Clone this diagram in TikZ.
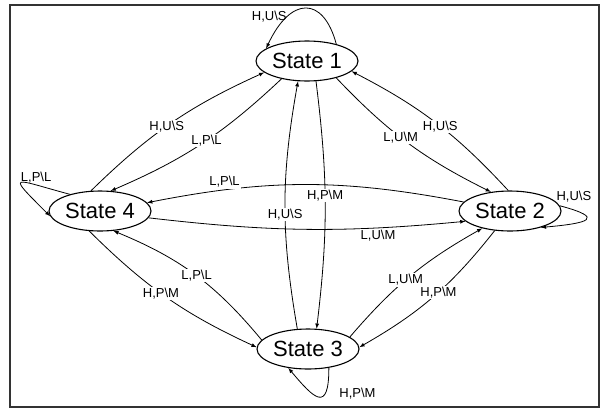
\documentclass[tikz,border=0pt]{standalone}
\usepackage{fontspec}
\setmainfont{Liberation Sans}
\usetikzlibrary{shapes,arrows,positioning}

\newcommand{\bs}{\textbackslash}

\begin{document}
\begin{tikzpicture}[
    x=1pt, y=1pt,
    state/.style={ellipse, draw, line width=1.1pt, minimum width=102pt, minimum height=40pt, inner sep=0pt, font=\fontsize{22}{24}\selectfont},
    trans/.style={draw, line width=0.8pt, -latex},
    lbl/.style={fill=white, inner sep=1pt, font=\fontsize{13}{15}\selectfont},
    loopl/.style={inner sep=1pt, font=\fontsize{13}{15}\selectfont}
]
    \useasboundingbox (0,0) rectangle (601,-410);
    \draw[line width=1.2pt, black!80] (10,-5) rectangle (599,-407);

    % States
    \node[state] (s1) at (307,-61) {State 1};
    \node[state] (s2) at (510,-211) {State 2};
    \node[state] (s3) at (308,-349) {State 3};
    \node[state] (s4) at (100,-211) {State 4};

    % Self loops
    \draw[trans] (s1.30) to[out=105, in=65, out distance=50, in distance=58] node[loopl, pos=0.72, anchor=east] {H,U\bs S} (s1.163);
    \draw[trans] (s4.151) to[out=165, in=135, out distance=60, in distance=63] node[loopl, pos=0.25, anchor=south] {L,P\bs L} (s4.186);
    \draw[trans] (s2.6) to[out=-15, in=5, distance=48] node[loopl, pos=0.12, above=6pt] {H,U\bs S} (s2.332);
    \draw[trans] (s3.318) to[out=-90, in=-50, out distance=46, in distance=40] node[loopl, pos=0.3, right=13pt] {H,P\bs M} (s3.224);

    % State 1 and State 4
    \draw[trans] (s4.114) to[bend left=10] node[lbl, pos=0.47] {H,U\bs S} (s1.195);
    \draw[trans] (s1.215) to[bend left=10] node[lbl, pos=0.47] {L,P\bs L} (s4.62);

    % State 1 and State 2
    \draw[trans] (s1.330) to[bend right=10] node[lbl, pos=0.45] {L,U\bs M} (s2.135);
    \draw[trans] (s2.95) to[bend right=10] node[lbl, pos=0.47] {H,U\bs S} (s1.347);

    % State 3 and State 4
    \draw[trans] (s3.169) to[bend right=14] node[lbl, pos=0.49] {L,P\bs L} (s4.304);
    \draw[trans] (s4.242) to[bend right=10] node[lbl, pos=0.46] {H,P\bs M} (s3.178);

    % State 3 and State 2
    \draw[trans] (s3.16) to[bend left=10] node[lbl, pos=0.46] {L,U\bs M} (s2.212);
    \draw[trans] (s2.232) to[bend left=11] node[lbl, pos=0.46] {H,P\bs M} (s3.2);

    % State 1 and State 3
    \draw[trans] (s1.294) to[bend left=7] node[lbl, pos=0.46] {H,P\bs M} (s3.67);
    \draw[trans] (s3.118) to[bend left=10] node[lbl, pos=0.46] {H,U\bs S} (s1.246);

    % State 2 and State 4
    \draw[trans] (s2.169) to[bend right=11] node[lbl, pos=0.77, above=1pt] {L,P\bs L} (s4.10);
    \draw[trans] (s4.352) to[bend right=6] node[lbl, pos=0.74, below=1pt] {L,U\bs M} (s2.193);
\end{tikzpicture}
\end{document}
